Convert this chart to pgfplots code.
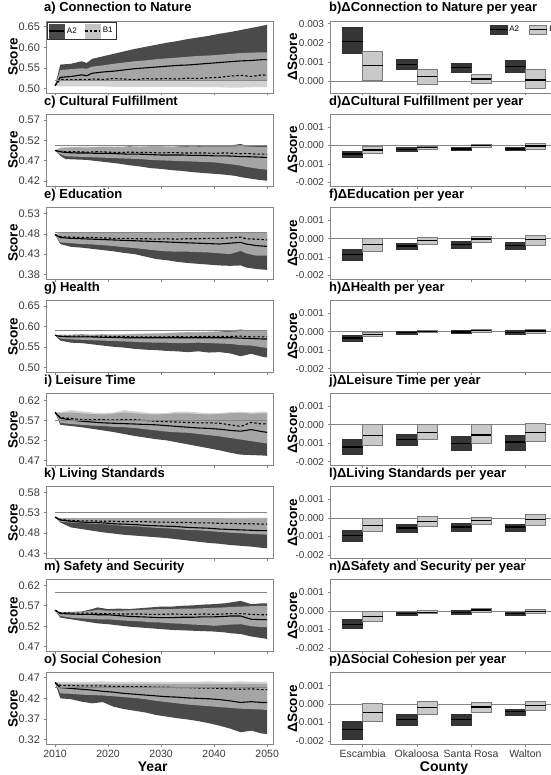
\documentclass[border=0pt]{standalone}
\usepackage{fontspec}
\setmainfont{Liberation Sans}
\usepackage{pgfplots}
\usepackage{pgfplotstable}
\pgfplotsset{compat=1.18}
\usepgfplotslibrary{fillbetween,statistics}

\definecolor{a2band}{HTML}{4A4A4A}
\definecolor{b1band}{HTML}{C4C4C4}
\definecolor{frame}{HTML}{858585}
\definecolor{ticktxt}{HTML}{3A3A3A}
\definecolor{a2box}{HTML}{363636}
\definecolor{b1box}{HTML}{C9C9C9}
\definecolor{b1edge}{HTML}{7A7A7A}

\pgfplotstableread{
yr a2lo a2hi b1lo b1hi a2m b1m
2010 0.507 0.507 0.507 0.507 0.507 0.507
2011 0.519 0.558 0.505 0.545 0.527 0.522
2013 0.519 0.560 0.505 0.547 0.529 0.521
2015 0.519 0.566 0.505 0.549 0.533 0.522
2016 0.519 0.562 0.505 0.548 0.531 0.521
2017 0.519 0.572 0.505 0.553 0.537 0.523
2019 0.519 0.578 0.505 0.556 0.540 0.522
2021 0.519 0.584 0.504 0.560 0.542 0.524
2023 0.519 0.590 0.504 0.563 0.545 0.523
2025 0.519 0.596 0.504 0.566 0.548 0.521
2027 0.519 0.601 0.504 0.568 0.550 0.524
2029 0.519 0.606 0.504 0.571 0.552 0.523
2031 0.519 0.611 0.504 0.573 0.554 0.524
2033 0.519 0.615 0.504 0.575 0.556 0.523
2035 0.519 0.620 0.504 0.577 0.557 0.525
2037 0.519 0.624 0.503 0.579 0.559 0.524
2039 0.519 0.628 0.503 0.580 0.561 0.526
2041 0.519 0.633 0.503 0.582 0.563 0.527
2043 0.519 0.637 0.502 0.584 0.565 0.530
2045 0.519 0.642 0.502 0.586 0.567 0.532
2047 0.519 0.647 0.503 0.587 0.568 0.529
2049 0.519 0.652 0.503 0.588 0.570 0.533
2050 0.519 0.655 0.503 0.588 0.570 0.532
}\tabA

\pgfplotstableread{
yr a2lo a2hi b1lo b1hi a2m b1m
2010 0.495 0.495 0.495 0.495 0.495 0.495
2011 0.482 0.500 0.486 0.503 0.492 0.493
2012 0.474 0.502 0.481 0.504 0.490 0.492
2014 0.473 0.503 0.480 0.504 0.489 0.492
2016 0.472 0.502 0.479 0.505 0.489 0.491
2018 0.469 0.504 0.478 0.503 0.488 0.492
2020 0.466 0.504 0.477 0.504 0.488 0.491
2022 0.463 0.503 0.476 0.505 0.487 0.490
2024 0.459 0.505 0.475 0.504 0.486 0.491
2026 0.456 0.504 0.474 0.505 0.486 0.490
2028 0.452 0.505 0.472 0.505 0.485 0.490
2030 0.450 0.505 0.471 0.505 0.484 0.489
2032 0.447 0.504 0.470 0.505 0.484 0.490
2034 0.445 0.506 0.469 0.505 0.484 0.489
2036 0.442 0.505 0.468 0.504 0.483 0.489
2038 0.440 0.506 0.467 0.505 0.483 0.489
2040 0.438 0.507 0.466 0.505 0.482 0.488
2042 0.436 0.506 0.463 0.505 0.482 0.489
2044 0.433 0.509 0.460 0.505 0.481 0.488
2045 0.430 0.511 0.458 0.506 0.480 0.487
2046 0.428 0.507 0.455 0.505 0.480 0.488
2048 0.424 0.508 0.451 0.504 0.479 0.486
2050 0.421 0.506 0.448 0.504 0.478 0.486
}\tabC

\pgfplotstableread{
yr a2lo a2hi b1lo b1hi a2m b1m
2010 0.478 0.478 0.478 0.478 0.478 0.478
2011 0.455 0.482 0.459 0.483 0.471 0.473
2013 0.448 0.482 0.457 0.483 0.469 0.472
2015 0.446 0.482 0.455 0.483 0.468 0.471
2017 0.443 0.482 0.454 0.483 0.467 0.471
2019 0.440 0.482 0.452 0.483 0.466 0.470
2021 0.437 0.482 0.450 0.483 0.465 0.469
2023 0.433 0.482 0.447 0.483 0.464 0.469
2025 0.430 0.482 0.445 0.483 0.463 0.468
2027 0.424 0.482 0.442 0.483 0.462 0.468
2029 0.418 0.482 0.439 0.483 0.461 0.467
2031 0.415 0.482 0.437 0.483 0.460 0.468
2033 0.411 0.482 0.436 0.483 0.459 0.467
2035 0.408 0.482 0.436 0.483 0.458 0.468
2037 0.406 0.482 0.435 0.483 0.457 0.468
2039 0.404 0.482 0.434 0.483 0.456 0.469
2041 0.402 0.482 0.432 0.483 0.455 0.469
2043 0.401 0.482 0.430 0.483 0.457 0.470
2045 0.402 0.482 0.438 0.483 0.459 0.472
2046 0.397 0.482 0.432 0.483 0.455 0.468
2048 0.393 0.482 0.426 0.483 0.451 0.467
2050 0.391 0.482 0.426 0.483 0.449 0.465
}\tabE

\pgfplotstableread{
yr a2lo a2hi b1lo b1hi a2m b1m
2010 0.579 0.579 0.579 0.579 0.579 0.579
2011 0.566 0.580 0.571 0.580 0.576 0.577
2013 0.561 0.580 0.569 0.580 0.575 0.577
2015 0.560 0.581 0.568 0.580 0.575 0.577
2017 0.557 0.580 0.567 0.581 0.575 0.576
2019 0.554 0.581 0.566 0.581 0.574 0.577
2021 0.551 0.580 0.565 0.582 0.574 0.576
2023 0.549 0.581 0.564 0.582 0.573 0.576
2025 0.546 0.582 0.563 0.583 0.573 0.575
2027 0.544 0.582 0.562 0.584 0.573 0.575
2029 0.543 0.583 0.561 0.585 0.573 0.575
2031 0.541 0.584 0.561 0.585 0.573 0.575
2033 0.540 0.585 0.560 0.586 0.573 0.576
2035 0.538 0.586 0.560 0.586 0.573 0.575
2037 0.540 0.586 0.561 0.587 0.573 0.576
2039 0.537 0.587 0.560 0.587 0.573 0.576
2041 0.538 0.588 0.559 0.588 0.573 0.576
2043 0.535 0.590 0.558 0.588 0.573 0.576
2045 0.528 0.593 0.555 0.589 0.572 0.577
2047 0.534 0.589 0.554 0.589 0.571 0.575
2049 0.527 0.590 0.550 0.589 0.570 0.575
2050 0.525 0.590 0.548 0.589 0.570 0.575
}\tabG

\pgfplotstableread{
yr a2lo a2hi b1lo b1hi a2m b1m
2010 0.590 0.590 0.590 0.590 0.590 0.590
2011 0.559 0.589 0.564 0.591 0.576 0.577
2013 0.556 0.590 0.561 0.596 0.571 0.575
2015 0.553 0.588 0.559 0.593 0.568 0.572
2017 0.549 0.586 0.557 0.590 0.566 0.572
2019 0.545 0.585 0.556 0.589 0.564 0.572
2021 0.541 0.587 0.554 0.590 0.563 0.571
2023 0.536 0.590 0.553 0.596 0.562 0.572
2025 0.531 0.588 0.551 0.593 0.561 0.572
2027 0.527 0.586 0.548 0.590 0.560 0.570
2029 0.523 0.585 0.545 0.588 0.559 0.568
2031 0.520 0.586 0.542 0.589 0.557 0.567
2033 0.515 0.588 0.540 0.592 0.555 0.566
2035 0.510 0.588 0.539 0.592 0.553 0.565
2037 0.505 0.586 0.536 0.590 0.551 0.564
2039 0.500 0.585 0.533 0.588 0.550 0.564
2041 0.495 0.586 0.530 0.589 0.548 0.563
2043 0.489 0.588 0.526 0.591 0.545 0.559
2045 0.484 0.589 0.522 0.592 0.543 0.555
2047 0.483 0.587 0.518 0.590 0.547 0.565
2049 0.482 0.588 0.514 0.592 0.542 0.561
2050 0.481 0.588 0.512 0.592 0.540 0.562
}\tabI

\pgfplotstableread{
yr a2lo a2hi b1lo b1hi a2m b1m
2010 0.519 0.519 0.519 0.519 0.519 0.519
2011 0.506 0.516 0.508 0.516 0.512 0.513
2013 0.494 0.516 0.506 0.516 0.509 0.511
2015 0.490 0.516 0.505 0.516 0.507 0.510
2017 0.486 0.516 0.503 0.516 0.506 0.510
2019 0.482 0.516 0.502 0.516 0.505 0.509
2021 0.479 0.516 0.500 0.516 0.503 0.509
2023 0.476 0.516 0.498 0.516 0.502 0.508
2025 0.474 0.516 0.497 0.516 0.501 0.508
2027 0.472 0.516 0.495 0.516 0.499 0.508
2029 0.470 0.516 0.493 0.516 0.498 0.507
2031 0.468 0.516 0.492 0.516 0.497 0.507
2033 0.465 0.516 0.490 0.516 0.496 0.506
2035 0.462 0.516 0.488 0.516 0.494 0.506
2037 0.459 0.516 0.487 0.516 0.493 0.505
2039 0.456 0.516 0.485 0.516 0.492 0.505
2041 0.454 0.516 0.483 0.516 0.490 0.504
2043 0.451 0.516 0.481 0.517 0.489 0.504
2045 0.449 0.516 0.480 0.517 0.488 0.503
2047 0.447 0.516 0.478 0.518 0.487 0.503
2049 0.444 0.516 0.477 0.518 0.486 0.502
2050 0.443 0.516 0.476 0.518 0.486 0.502
}\tabK

\pgfplotstableread{
yr a2lo a2hi b1lo b1hi a2m b1m
2010 0.559 0.559 0.559 0.559 0.559 0.559
2011 0.541 0.554 0.545 0.554 0.551 0.553
2013 0.537 0.555 0.541 0.554 0.550 0.552
2015 0.533 0.556 0.539 0.555 0.549 0.552
2017 0.529 0.562 0.538 0.558 0.549 0.552
2018 0.527 0.566 0.537 0.560 0.548 0.551
2020 0.525 0.562 0.537 0.558 0.548 0.551
2022 0.522 0.563 0.535 0.558 0.546 0.550
2024 0.519 0.562 0.533 0.559 0.544 0.550
2026 0.517 0.564 0.532 0.560 0.543 0.550
2028 0.515 0.566 0.530 0.561 0.542 0.549
2030 0.513 0.568 0.529 0.562 0.541 0.549
2032 0.511 0.568 0.527 0.562 0.541 0.550
2034 0.510 0.570 0.526 0.563 0.542 0.549
2036 0.509 0.571 0.524 0.563 0.542 0.549
2038 0.508 0.573 0.523 0.564 0.543 0.550
2040 0.507 0.574 0.521 0.565 0.543 0.549
2042 0.505 0.576 0.523 0.566 0.544 0.550
2043 0.503 0.578 0.524 0.567 0.545 0.551
2045 0.501 0.582 0.525 0.568 0.545 0.551
2047 0.495 0.574 0.520 0.569 0.537 0.549
2049 0.491 0.576 0.518 0.570 0.536 0.548
2050 0.489 0.576 0.518 0.570 0.536 0.548
}\tabM

\pgfplotstableread{
yr a2lo a2hi b1lo b1hi a2m b1m
2010 0.458 0.458 0.458 0.458 0.458 0.458
2011 0.420 0.455 0.432 0.460 0.446 0.451
2013 0.418 0.455 0.431 0.460 0.444 0.451
2015 0.412 0.455 0.429 0.460 0.442 0.450
2017 0.408 0.455 0.428 0.460 0.440 0.450
2019 0.411 0.455 0.427 0.461 0.437 0.450
2021 0.400 0.455 0.425 0.460 0.435 0.449
2023 0.394 0.455 0.423 0.460 0.432 0.449
2025 0.390 0.455 0.421 0.460 0.430 0.448
2027 0.386 0.455 0.418 0.460 0.428 0.448
2029 0.380 0.455 0.414 0.460 0.426 0.447
2031 0.376 0.455 0.411 0.460 0.424 0.447
2033 0.372 0.455 0.408 0.460 0.423 0.446
2035 0.369 0.455 0.405 0.460 0.421 0.446
2037 0.365 0.455 0.403 0.460 0.420 0.445
2039 0.360 0.455 0.401 0.461 0.419 0.445
2041 0.354 0.455 0.399 0.460 0.417 0.444
2043 0.347 0.455 0.397 0.460 0.414 0.443
2045 0.338 0.455 0.395 0.461 0.410 0.442
2047 0.342 0.455 0.394 0.460 0.412 0.443
2049 0.335 0.455 0.393 0.460 0.410 0.441
2050 0.334 0.455 0.392 0.460 0.410 0.441
}\tabO

\pgfplotsset{
  base/.style={
    scale only axis, height=72pt,
    axis on top,
    axis line style={frame, line width=0.9pt},
    tick style={frame, line width=0.6pt},
    tick align=outside, major tick length=2.5pt,
    xtick pos=bottom, ytick pos=left,
    scaled y ticks=false,
    /pgf/number format/assume math mode=true,
    ticklabel style={text=ticktxt},
    title style={at={(axis description cs:0,1)}, anchor=base west,
      font=\fontsize{13}{15}\selectfont\bfseries, inner sep=0pt, yshift=3pt},
    xlabel style={font=\fontsize{14}{16}\selectfont\bfseries, anchor=base, yshift=-26.5pt},
  },
  leftp/.style={base, width=227pt, xmin=2008.3, xmax=2051.1,
    xtick={2010,2020,2030,2040,2050}, xticklabels={},
    ylabel={Score},
    ylabel style={at={(axis description cs:-0.145,0.5)}, anchor=center,
      font=\fontsize{13.5}{15}\selectfont\bfseries},
    y tick label style={font=\fontsize{11}{12}\selectfont},
    x tick label style={font=\fontsize{10.5}{12}\selectfont, yshift=1pt},
    yticklabel style={/pgf/number format/fixed, /pgf/number format/fixed zerofill, /pgf/number format/precision=2},
    title style={xshift=-2pt},
  },
  % right panels: values in units of 0.001
  rightp/.style={base, width=228pt, xmin=0.4, xmax=4.6,
    xtick={1,2,3,4}, xticklabels={},
    ymin=-2.2, ymax=1.7, ytick={-2,-1,0,1},
    yticklabels={-0.002,-0.001,0.000,0.001},
    ylabel={ΔScore},
    ylabel style={at={(axis description cs:-0.165,0.5)}, anchor=center,
      font=\fontsize{13.5}{15}\selectfont\bfseries},
    y tick label style={font=\fontsize{10}{12}\selectfont},
    x tick label style={font=\fontsize{10.5}{12}\selectfont, yshift=1pt},
    title style={xshift=-1pt},
    boxplot/draw direction=y,
    boxplot/every median/.style={draw=black, line width=1.3pt},
  },
  a2b/.style={fill=a2box, draw=black!80, line width=0.6pt},
  b1b/.style={fill=b1box, draw=b1edge, line width=0.6pt},
}

\newcommand{\bands}[1]{%
  \addplot[name path=ah, draw=none, forget plot] table[x=yr,y=a2hi]{#1};
  \addplot[name path=al, draw=none, forget plot] table[x=yr,y=a2lo]{#1};
  \addplot[fill=a2band, draw=none, forget plot] fill between[of=ah and al];
  \addplot[name path=bh, draw=none, forget plot] table[x=yr,y=b1hi]{#1};
  \addplot[name path=bl, draw=none, forget plot] table[x=yr,y=b1lo]{#1};
  \addplot[fill=b1band, fill opacity=0.75, draw=none, forget plot] fill between[of=bh and bl];
  \addplot[black, line width=1.1pt, forget plot] table[x=yr,y=a2m]{#1};
  \addplot[black, line width=1.1pt, dash pattern=on 2.5pt off 2pt, forget plot] table[x=yr,y=b1m]{#1};
}
\newcommand{\refl}[1]{\addplot[frame, line width=0.8pt, forget plot] coordinates {(2010,#1) (2050,#1)};}
\newcommand{\zl}{\addplot[frame, line width=0.7pt, forget plot] coordinates {(0.4,0) (4.6,0)};}
% position, low, median, high, style  (values x 0.001)
\newcommand{\bx}[5]{\addplot[forget plot, #5, boxplot prepared={draw position=#1, lower whisker=#2, lower quartile=#2, median=#3, upper quartile=#4, upper whisker=#4, box extend=0.37, whisker extend=0}] coordinates {};}

\begin{document}
\begin{tikzpicture}

% ---------- left column ----------
\begin{axis}[leftp, at={(46pt,682pt)}, anchor=south west,
  title={a) Connection to Nature},
  ymin=0.489, ymax=0.664, ytick={0.50,0.55,0.60,0.65},
  legend style={at={(axis description cs:0.005,0.985)}, anchor=north west,
    legend columns=2, draw=black!80, fill=white, inner sep=1.5pt,
    font=\fontsize{8}{9}\selectfont,
    /tikz/every even column/.append style={column sep=6pt}}]
\bands{\tabA}
\refl{0.520}
\addlegendimage{legend image code/.code={\fill[a2band] (0pt,-7pt) rectangle (15pt,7pt); \draw[black, line width=1.1pt] (0pt,0pt) -- (15pt,0pt);}}
\addlegendentry{A2}
\addlegendimage{legend image code/.code={\fill[b1band] (0pt,-7pt) rectangle (15pt,7pt); \draw[black, line width=1.1pt, dash pattern=on 2.5pt off 2pt] (0pt,0pt) -- (15pt,0pt);}}
\addlegendentry{B1}
\end{axis}

\begin{axis}[leftp, at={(46pt,588.9pt)}, anchor=south west,
  title={c) Cultural Fulfillment},
  ymin=0.408, ymax=0.584, ytick={0.42,0.47,0.52,0.57}]
\bands{\tabC}
\refl{0.508}
\end{axis}

\begin{axis}[leftp, at={(46pt,495.8pt)}, anchor=south west,
  title={e) Education},
  ymin=0.368, ymax=0.546, ytick={0.38,0.43,0.48,0.53}]
\bands{\tabE}
\refl{0.483}
\end{axis}

\begin{axis}[leftp, at={(46pt,402.7pt)}, anchor=south west,
  title={g) Health},
  ymin=0.489, ymax=0.664, ytick={0.50,0.55,0.60,0.65}]
\bands{\tabG}
\refl{0.591}
\end{axis}

\begin{axis}[leftp, at={(46pt,309.6pt)}, anchor=south west,
  title={i) Leisure Time},
  ymin=0.457, ymax=0.638, ytick={0.47,0.52,0.57,0.62}]
\bands{\tabI}
\refl{0.570}
\end{axis}

\begin{axis}[leftp, at={(46pt,216.5pt)}, anchor=south west,
  title={k) Living Standards},
  ymin=0.418, ymax=0.594, ytick={0.43,0.48,0.53,0.58}]
\bands{\tabK}
\refl{0.530}
\end{axis}

\begin{axis}[leftp, at={(46pt,123.4pt)}, anchor=south west,
  title={m) Safety and Security},
  ymin=0.458, ymax=0.634, ytick={0.47,0.52,0.57,0.62}]
\bands{\tabM}
\refl{0.603}
\end{axis}

\begin{axis}[leftp, at={(46pt,30.3pt)}, anchor=south west,
  title={o) Social Cohesion},
  ymin=0.308, ymax=0.482, ytick={0.32,0.37,0.42,0.47},
  xticklabels={2010,2020,2030,2040,2050},
  xlabel={Year}, xlabel style={at={(axis description cs:0.47,0)}}]
\bands{\tabO}
\refl{0.447}
\end{axis}

% ---------- right column (values in units of 0.001) ----------
\begin{axis}[rightp, at={(330pt,682pt)}, anchor=south west,
  title={b)ΔConnection to Nature per year},
  ymin=-0.63, ymax=3.14, ytick={0,1,2,3},
  yticklabels={0.000,0.001,0.002,0.003},
  legend style={at={(axis description cs:0.693,0.97)}, anchor=north west,
    legend columns=2, draw=none, fill=none, inner sep=1pt,
    font=\fontsize{8}{9}\selectfont,
    /tikz/every even column/.append style={column sep=8pt}}]
\zl
\bx{0.815}{1.47}{2.07}{2.79}{a2b}
\bx{1.815}{0.60}{0.87}{1.13}{a2b}
\bx{2.815}{0.46}{0.70}{0.94}{a2b}
\bx{3.815}{0.46}{0.77}{1.06}{a2b}
\bx{1.185}{0.02}{0.82}{1.56}{b1b}
\bx{2.185}{-0.17}{0.22}{0.62}{b1b}
\bx{3.185}{-0.12}{0.10}{0.34}{b1b}
\bx{4.185}{-0.38}{0.05}{0.60}{b1b}
\addlegendimage{legend image code/.code={\draw[fill=a2box, draw=black!80, line width=0.6pt] (0pt,-4.5pt) rectangle (17pt,4.5pt); \draw[black, line width=1.2pt] (0pt,0pt) -- (17pt,0pt);}}
\addlegendentry{A2}
\addlegendimage{legend image code/.code={\draw[fill=b1box, draw=b1edge, line width=0.6pt] (0pt,-4.5pt) rectangle (17pt,4.5pt); \draw[black, line width=1.2pt] (0pt,0pt) -- (17pt,0pt);}}
\addlegendentry{B1}
\end{axis}

\begin{axis}[rightp, at={(330pt,588.9pt)}, anchor=south west,
  title={d)ΔCultural Fulfillment per year}]
\zl
\bx{0.815}{-0.66}{-0.46}{-0.29}{a2b}
\bx{1.815}{-0.32}{-0.22}{-0.12}{a2b}
\bx{2.815}{-0.27}{-0.19}{-0.10}{a2b}
\bx{3.815}{-0.27}{-0.19}{-0.12}{a2b}
\bx{1.185}{-0.41}{-0.24}{-0.07}{b1b}
\bx{2.185}{-0.19}{-0.12}{-0.03}{b1b}
\bx{3.185}{-0.10}{-0.02}{0.08}{b1b}
\bx{4.185}{-0.19}{-0.03}{0.10}{b1b}
\end{axis}

\begin{axis}[rightp, at={(330pt,495.8pt)}, anchor=south west,
  title={f)ΔEducation per year}]
\zl
\bx{0.815}{-1.17}{-0.88}{-0.59}{a2b}
\bx{1.815}{-0.56}{-0.41}{-0.25}{a2b}
\bx{2.815}{-0.51}{-0.32}{-0.17}{a2b}
\bx{3.815}{-0.56}{-0.37}{-0.20}{a2b}
\bx{1.185}{-0.68}{-0.32}{0.00}{b1b}
\bx{2.185}{-0.31}{-0.12}{0.05}{b1b}
\bx{3.185}{-0.19}{-0.03}{0.14}{b1b}
\bx{4.185}{-0.34}{-0.05}{0.17}{b1b}
\end{axis}

\begin{axis}[rightp, at={(330pt,402.7pt)}, anchor=south west,
  title={h)ΔHealth per year}]
\zl
\bx{0.815}{-0.51}{-0.34}{-0.17}{a2b}
\bx{1.815}{-0.14}{-0.05}{0.03}{a2b}
\bx{2.815}{-0.10}{-0.02}{0.08}{a2b}
\bx{3.815}{-0.14}{-0.05}{0.05}{a2b}
\bx{1.185}{-0.25}{-0.14}{-0.03}{b1b}
\bx{2.185}{-0.05}{0.00}{0.07}{b1b}
\bx{3.185}{-0.03}{0.07}{0.15}{b1b}
\bx{4.185}{-0.07}{0.03}{0.14}{b1b}
\end{axis}

\begin{axis}[rightp, at={(330pt,309.6pt)}, anchor=south west,
  title={j)ΔLeisure Time per year}]
\zl
\bx{0.815}{-1.62}{-1.20}{-0.78}{a2b}
\bx{1.815}{-1.12}{-0.81}{-0.52}{a2b}
\bx{2.815}{-1.38}{-1.02}{-0.64}{a2b}
\bx{3.815}{-1.38}{-0.93}{-0.55}{a2b}
\bx{1.185}{-1.10}{-0.59}{0.00}{b1b}
\bx{2.185}{-0.81}{-0.43}{0.00}{b1b}
\bx{3.185}{-0.98}{-0.55}{0.00}{b1b}
\bx{4.185}{-0.90}{-0.43}{0.10}{b1b}
\end{axis}

\begin{axis}[rightp, at={(330pt,216.5pt)}, anchor=south west,
  title={l)ΔLiving Standards per year}]
\zl
\bx{0.815}{-1.29}{-0.95}{-0.66}{a2b}
\bx{1.815}{-0.78}{-0.55}{-0.34}{a2b}
\bx{2.815}{-0.71}{-0.50}{-0.31}{a2b}
\bx{3.815}{-0.71}{-0.50}{-0.34}{a2b}
\bx{1.185}{-0.74}{-0.40}{-0.02}{b1b}
\bx{2.185}{-0.45}{-0.20}{0.09}{b1b}
\bx{3.185}{-0.34}{-0.16}{0.03}{b1b}
\bx{4.185}{-0.40}{-0.09}{0.21}{b1b}
\end{axis}

\begin{axis}[rightp, at={(330pt,123.4pt)}, anchor=south west,
  title={n)ΔSafety and Security per year}]
\zl
\bx{0.815}{-0.96}{-0.72}{-0.46}{a2b}
\bx{1.815}{-0.26}{-0.15}{-0.07}{a2b}
\bx{2.815}{-0.20}{-0.09}{0.02}{a2b}
\bx{3.815}{-0.26}{-0.15}{-0.05}{a2b}
\bx{1.185}{-0.55}{-0.29}{0.00}{b1b}
\bx{2.185}{-0.15}{-0.07}{0.03}{b1b}
\bx{3.185}{-0.05}{0.05}{0.17}{b1b}
\bx{4.185}{-0.15}{-0.02}{0.10}{b1b}
\end{axis}

\begin{axis}[rightp, at={(330pt,30.3pt)}, anchor=south west,
  title={p)ΔSocial Cohesion per year},
  xticklabels={Escambia,Okaloosa,Santa Rosa,Walton},
  xlabel={County}, xlabel style={at={(axis description cs:0.5,0)}}]
\zl
\bx{0.815}{-1.93}{-1.38}{-0.94}{a2b}
\bx{1.815}{-1.13}{-0.82}{-0.53}{a2b}
\bx{2.815}{-1.13}{-0.82}{-0.53}{a2b}
\bx{3.815}{-0.62}{-0.39}{-0.26}{a2b}
\bx{1.185}{-0.94}{-0.44}{0.03}{b1b}
\bx{2.185}{-0.56}{-0.19}{0.15}{b1b}
\bx{3.185}{-0.43}{-0.15}{0.12}{b1b}
\bx{4.185}{-0.32}{-0.09}{0.15}{b1b}
\end{axis}

\pgfresetboundingbox
\path[use as bounding box] (0,0) rectangle (550pt,775pt);
\end{tikzpicture}
\end{document}
